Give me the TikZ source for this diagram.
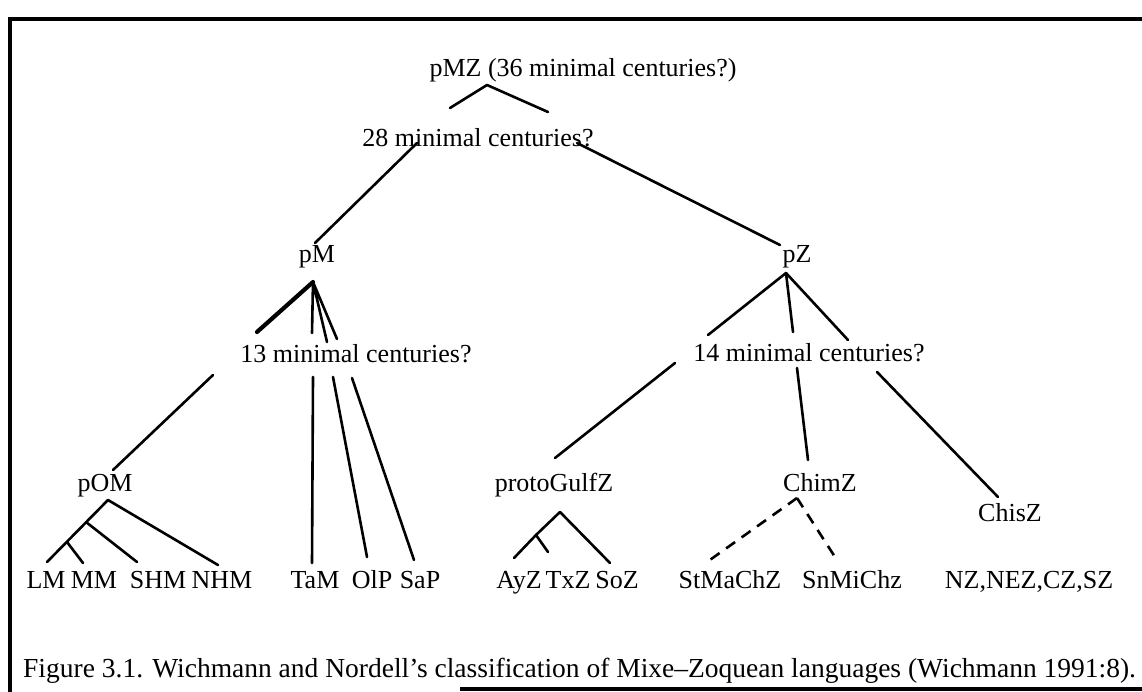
\documentclass[tikz,border=0pt]{standalone}
\usepackage{fontspec}
\setmainfont{Liberation Serif}
\usetikzlibrary{calc}
\tikzset{
  lang/.style={font=\fontsize{26}{30}\selectfont, inner sep=0pt, anchor=base},
  caption/.style={font=\fontsize{27.5}{32}\selectfont, inner sep=0pt, anchor=base west},
  branch/.style={line width=2.6pt, line cap=round},
  heavybranch/.style={line width=4.2pt, line cap=round},
  dashbranch/.style={line width=2.6pt, dash pattern=on 11pt off 8pt},
  frameline/.style={line width=4pt}
}
\begin{document}
\begin{tikzpicture}[x=1pt, y=-1pt]
\useasboundingbox (0,0) rectangle (1142,692);
\draw[frameline] (10,692) -- (10,19) -- (1142,19);
\draw[frameline] (460,689) -- (1142,689);

\node[lang] (pMZ) at (583,77) {pMZ (36 minimal\ centuries?)};
\node[lang] (c28) at (478,147) {28 minimal\ centuries?};
\node[lang] (pM) at (317,263) {pM};
\node[lang] (pZ) at (797,263) {pZ};
\node[lang] (c13) at (356,362) {13 minimal\ centuries?};
\node[lang] (c14) at (809,361) {14 minimal\ centuries?};
\node[lang] (pOM) at (105,491) {pOM};
\node[lang] (pGulf) at (554,491) {protoGulfZ};
\node[lang] (ChimZ) at (820,491) {ChimZ};
\node[lang] (ChisZ) at (1010,521) {ChisZ};

\node[lang] (LM) at (46,588) {LM};
\node[lang] (MM) at (94,588) {MM};
\node[lang] (SHM) at (158,588) {SHM};
\node[lang] (NHM) at (222,588) {NHM};
\node[lang] (TaM) at (315,588) {TaM};
\node[lang] (OlP) at (372,588) {OlP};
\node[lang] (SaP) at (420,588) {SaP};
\node[lang] (AyZ) at (519,588) {AyZ};
\node[lang] (TxZ) at (568,588) {TxZ};
\node[lang] (SoZ) at (617,588) {SoZ};
\node[lang] (StMa) at (730,588) {StMaChZ};
\node[lang] (SnMi) at (852,588) {SnMiChz};
\node[lang] (NZ) at (1029,588) {NZ,NEZ,CZ,SZ};

\node[caption] (cap) at (23,677) {Figure 3.1. Wichmann and Nordell's classification of Mixe--Zoquean languages (Wichmann 1991:8).};

% junctions
\coordinate (aMZ) at (487,85);
\coordinate (aM) at (313,282);
\coordinate (aZ) at (786,273);
\coordinate (aOM) at (108,500);
\coordinate (aOMa) at (86,522);
\coordinate (aOMb) at (67,542);
\coordinate (aGulf) at (560,512);
\coordinate (aGulfa) at (536,535);
\coordinate (aChim) at (797,498);

\draw[branch] (aMZ) -- (450,108) (aMZ) -- (548,112);
\draw[branch] (417,143) -- (315,243);
\draw[branch] (577,143) -- (780,245);

\draw[heavybranch] (aM) -- (257,332);
\draw[branch] (aM) -- (312,333) (aM) -- (327,342) (aM) -- (337,339);
\draw[branch] (313,377) -- (312,563);
\draw[branch] (333,377) -- (367,557);
\draw[branch] (352,378) -- (414,560);
\draw[branch] (213,375) -- (113,470);

\draw[branch] (aOM) -- (47,562);
\draw[branch] (aOM) -- (218,565);
\draw[branch] (aOMa) -- (137,562);
\draw[branch] (aOMb) -- (83,563);

\draw[branch] (aZ) -- (708,335) (aZ) -- (793,332) (aZ) -- (848,340);
\draw[branch] (675,363) -- (555,458);
\draw[branch] (797,368) -- (808,460);
\draw[branch] (877,372) -- (998,497);

\draw[branch] (aGulf) -- (610,563);
\draw[branch] (aGulf) -- (aGulfa) -- (514,558);
\draw[branch] (aGulfa) -- (548,552);

\draw[dashbranch] (aChim) -- (707,562);
\draw[dashbranch] (aChim) -- (835,557);
\end{tikzpicture}
\end{document}
